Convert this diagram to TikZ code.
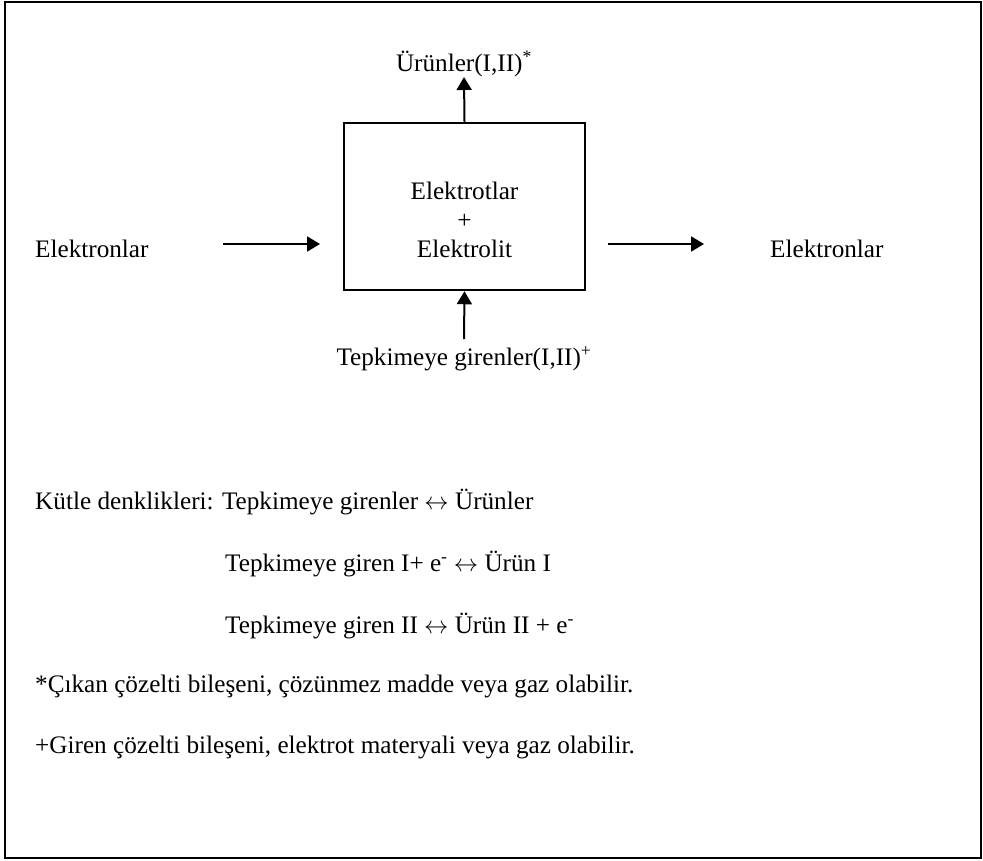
\documentclass[tikz,border=0pt]{standalone}
\usepackage{fontspec}
\setmainfont{Liberation Serif}
\usetikzlibrary{arrows.meta}

\begin{document}
\begin{tikzpicture}[x=0.03cm, y=-0.03cm, >={Triangle[length=0.39cm, width=0.45cm]},
    txt/.style={inner sep=0pt, font=\fontsize{21.5}{24.7}\selectfont},
    cell/.style={draw, line width=0.075cm, minimum width=7.23cm, minimum height=5.01cm, inner sep=0pt},
    flow/.style={->, line width=0.06cm}]

    % page and outer frame
    \useasboundingbox (0,0) rectangle (983,860);
    \draw[line width=0.06cm] (5,2) rectangle (981,858);

    % cell in the middle
    \node[cell] (cell) at (464.5,206.5) {};
    \node[txt, align=center, anchor=base] (mix) at (464.5,257) {Elektrotlar\\+\\Elektrolit};

    % labels round the cell
    \node[txt, anchor=base] (out) at (464,71) {Ürünler(I,II)\textsuperscript{*}};
    \node[txt, anchor=base] (in) at (464,365) {Tepkimeye girenler(I,II)\textsuperscript{+}};
    \node[txt, anchor=base west] (eleft) at (35,257) {Elektronlar};
    \node[txt, anchor=base west] (eright) at (770,257) {Elektronlar};

    % free ends of the arrows
    \coordinate (tailL) at (223,244);
    \coordinate (tipL) at (320,244);
    \coordinate (tailR) at (608,244);
    \coordinate (tipR) at (704,244);
    \coordinate (tailB) at (464,339);
    \coordinate (tipT) at (464,77);

    % arrows
    \draw[flow] (tailL) -- (tipL);
    \draw[flow] (tailR) -- (tipR);
    \draw[flow] (cell.north) -- (tipT);
    \draw[flow] (tailB) -- (cell.south);

    % mass balances
    \node[txt, anchor=base west] (bal) at (35,509) {Kütle denklikleri: Tepkimeye girenler $\leftrightarrow$ Ürünler};
    \node[txt, anchor=base west] (bal1) at (225,571) {Tepkimeye giren I+ e\textsuperscript{-} $\leftrightarrow$ Ürün I};
    \node[txt, anchor=base west] (bal2) at (225,633) {Tepkimeye giren II $\leftrightarrow$ Ürün II + e\textsuperscript{-}};

    % footnotes
    \node[txt, anchor=base west] (fn1) at (35,692) {*Çıkan çözelti bileşeni, çözünmez madde veya gaz olabilir.};
    \node[txt, anchor=base west] (fn2) at (35,753) {+Giren çözelti bileşeni, elektrot materyali veya gaz olabilir.};

\end{tikzpicture}
\end{document}
